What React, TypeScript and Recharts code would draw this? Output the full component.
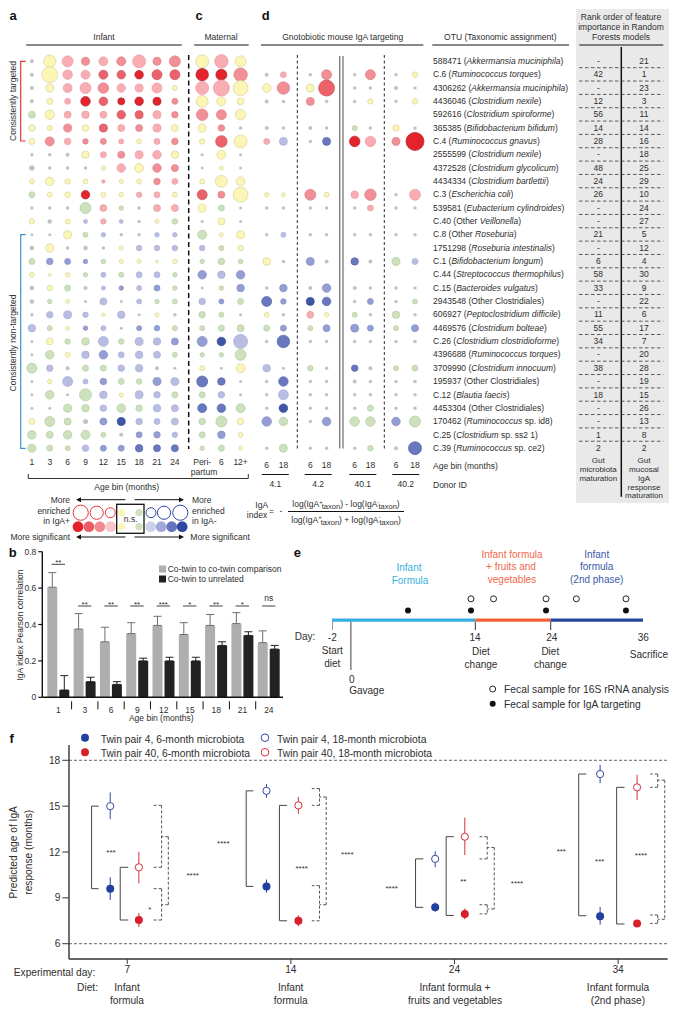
import React from 'react';
import {
    BarChart,
    Bar,
    ErrorBar,
    Scatter,
    ScatterChart,
    ReferenceLine,
    XAxis,
    YAxis,
    ZAxis,
} from 'recharts';

const FONT = '"Liberation Sans", Arial, sans-serif';
const INK = '#2e2e2e';

// ---- panels a, c, d: one row per OTU. Size = bubble abundance reading, level = IgA index class
// level: 0 absent/grey, 1 n.s. positive (yellow), -1 n.s. negative (green), 2..5 red, -2..-5 blue
const otuIds = ['588471', 'C.6', '4306262', '4436046', '592616', '365385', 'C.4', '2555599', '4372528', '4434334', 'C.3', '539581', 'C.40', 'C.8', '1751298', 'C.1', 'C.44', 'C.15', '2943548', '606927', '4469576', 'C.26', '4396688', '3709990', '195937', 'C.12', '4453304', '170462', 'C.25', 'C.39'];
const otuPrefix = ['', '', '', '', '', '', '', '', '', '', '', '', 'Other ', 'Other ', '', '', '', '', 'Other Clostridiales', '', '', '', '', '', 'Other Clostridiales', '', 'Other Clostridiales', '', '', ''];
const otuTaxon = ['Akkermansia muciniphila', 'Ruminococcus torques', 'Akkermansia muciniphila', 'Clostridium nexile', 'Clostridium spiroforme', 'Bifidobacterium bifidum', 'Ruminococcus gnavus', 'Clostridium nexile', 'Clostridium glycolicum', 'Clostridium bartlettii', 'Escherichia coli', 'Eubacterium cylindroides', 'Veillonella', 'Roseburia', 'Roseburia intestinalis', 'Bifidobacterium longum', 'Streptococcus thermophilus', 'Bacteroides vulgatus', '', 'Peptoclostridium difficile', 'Clostridium bolteae', 'Clostridium clostridioforme', 'Ruminococcus torques', 'Clostridium innocuum', '', 'Blautia faecis', '', 'Ruminococcus', 'Clostridium', 'Ruminococcus'];
const otuSuffix = ['', '', '', '', '', '', '', '', '', '', '', '', '', '', '', '', '', '', '', '', '', '', '', '', '', '', '', ' sp. id8', ' sp. ss2 1', ' sp. ce2'];
const rankMicrobiota = ['-', '42', '-', '12', '56', '14', '28', '-', '48', '24', '26', '-', '-', '21', '-', '6', '58', '33', '-', '11', '55', '34', '-', '38', '-', '18', '-', '-', '1', '2'];
const rankIgA = ['21', '1', '23', '3', '11', '14', '16', '18', '25', '29', '10', '24', '27', '5', '12', '4', '30', '9', '22', '6', '17', '7', '20', '28', '19', '15', '26', '13', '8', '2'];

const infantBins = ['1', '3', '6', '9', '12', '15', '18', '21', '24'];
const infantSize = [
    [4, 12.5, 11, 8, 9, 9, 13, 8, 11],
    [4, 16, 9.5, 9, 9, 8.5, 8.5, 10, 10],
    [4, 8, 9, 11, 10.5, 8.5, 8, 10, 5],
    [4, 6, 6, 9.5, 8.5, 7, 8.5, 8, 6],
    [7, 9.5, 7, 7.5, 7, 8.5, 8, 8, 6.5],
    [6.5, 5, 8, 6.5, 8, 7, 7, 8, 7],
    [6, 9, 6.5, 5.5, 6, 5, 5, 6, 6.5],
    [3.5, 3.5, 4, 7.5, 6, 7, 8, 8.5, 7.5],
    [5.5, 3.5, 3.5, 3.5, 4.5, 8.5, 9, 8.5, 7],
    [5, 8.5, 5.5, 5, 3.5, 4, 5, 6.5, 6],
    [6, 5, 5.5, 8.5, 5, 4.5, 5.5, 6, 5],
    [3.5, 3.5, 3.5, 11, 7, 4.5, 3.5, 7, 7],
    [5.5, 4.5, 5, 4, 5.5, 4, 3.5, 4, 5.5],
    [3, 3, 8, 5, 4.5, 3.5, 3.5, 4.5, 4.5],
    [4.5, 8.5, 3.5, 4.5, 3.5, 4, 5.5, 5.5, 5.5],
    [6, 6.5, 6, 4.5, 4.5, 4, 4, 3, 4.5],
    [5, 3, 4.5, 4.5, 5, 5, 6, 6, 4.5],
    [4.5, 5.5, 6, 4, 4, 4.5, 5, 6, 4.5],
    [4.5, 4.5, 4, 3, 7, 3, 5, 4.5, 5],
    [3.5, 6.5, 8, 5.5, 3.5, 7.5, 3, 4, 3.5],
    [7.5, 5, 4, 4.5, 5, 3, 5, 5.5, 5],
    [3, 7, 5.5, 7.5, 10, 5.5, 8, 7.5, 7],
    [3, 8.5, 5, 7.5, 8.5, 6, 7.5, 7, 5],
    [10, 6.5, 4, 6, 6, 6.5, 7.5, 4, 3],
    [3, 4.5, 10, 5, 6.5, 6, 5.5, 8, 8],
    [3, 8.5, 3, 12, 7.5, 4, 8, 6.5, 6],
    [3, 3, 8, 7.5, 6.5, 8.5, 6.5, 7.5, 7],
    [6, 10, 7, 5, 7, 8, 6.5, 6, 7],
    [8.5, 7, 8.5, 9, 5, 4, 6, 6.5, 5.5],
    [8, 6, 5, 6.5, 6, 6, 7.5, 7, 7],
];
const infantLevel = [
    [0, 1, 2, 3, 2, 3, 2, 3, 3],
    [0, 1, 2, 2, 4, 4, 5, 4, 4],
    [0, 1, 2, 2, 3, 2, 2, 2, 1],
    [0, 1, 2, 5, 4, 5, 5, 5, 3],
    [-1, 1, 2, 2, 2, 4, 4, 2, 3],
    [1, 1, 3, 1, 4, 2, 3, 2, 1],
    [1, 3, 2, 3, 3, 2, 1, 2, 3],
    [0, 0, 0, 1, 2, 3, 2, 2, 1],
    [0, 0, 0, 0, 1, 2, 1, 3, 3],
    [1, 1, 1, 1, 2, 1, 1, 3, 2],
    [-1, 1, 1, 5, 1, 1, 2, 2, 1],
    [0, 0, 0, -1, 2, -1, 0, 2, 2],
    [1, 0, 1, -2, 2, -2, 0, 1, -1],
    [0, 0, 1, -1, -2, 0, 0, -2, -2],
    [0, 1, 0, 0, 0, 1, -2, -2, -2],
    [-1, -3, -3, -3, -1, 1, 1, 1, 1],
    [1, 1, 1, -1, -2, -1, -2, -2, -1],
    [0, 1, -1, 0, -2, -3, -2, -3, -1],
    [0, -1, 1, 0, -2, 0, -2, -1, -1],
    [0, -2, -2, -2, 1, -2, 0, 1, 0],
    [-2, -1, 1, -3, -2, 0, -3, -3, -1],
    [0, 1, -1, -1, -2, -1, -2, -2, -3],
    [0, -1, 1, -2, -3, -2, -2, -2, -1],
    [-1, -2, 0, -1, -1, -2, -2, 0, 0],
    [0, 1, -2, -2, -3, -1, -1, -3, -2],
    [0, -1, 0, -1, -2, 1, -2, -2, -1],
    [0, 0, -1, -1, -2, -1, -1, -2, -2],
    [1, -1, -1, 0, -3, -5, -2, -2, -2],
    [-1, -1, -1, -1, -1, 0, -3, -3, -2],
    [-1, -1, -1, -2, -3, -3, -4, -4, -4],
];

const maternalBins = ['Peri-', '6', '12+'];
const maternalSize = [
    [13, 13.5, 11], [12.5, 11, 13.5], [13, 16, 15], [12, 9, 7], [11.5, 10, 10.5], [8, 6.5, 3.5],
    [5.5, 11.5, 13], [3, 9, 3], [3, 4, 3], [5, 12, 9], [10, 7, 15], [8, 6, 3], [3, 7, 3], [9, 4, 8], [5.5, 5, 5.5],
    [4.5, 6.5, 4.5], [8.5, 7.5, 8.5], [3, 4.5, 7.5], [6.5, 5, 6], [6.5, 5, 3], [5, 6, 7], [10, 8.5, 14],
    [4.5, 4.5, 11], [5, 3, 9], [11, 7.5, 3], [6, 6.5, 3], [9, 8.5, 9], [6.5, 11, 6.5], [6, 7.5, 5], [4.5, 6, 4],
];
const maternalLevel = [
    [1, 2, 1], [5, 5, 3], [2, 2, 1], [1, 1, 1], [3, 3, 1], [1, 3, 0],
    [1, 4, 1], [0, 1, 0], [0, 1, 0], [1, 1, 1], [4, 3, 1], [1, -1, 0], [0, 1, 0], [-1, 1, 1], [-2, -1, 1],
    [-1, -1, -1], [-3, -2, -3], [0, -1, -3], [-2, -3, -1], [-1, -1, 0], [-1, -1, -1], [-3, -5, -2],
    [-1, -1, -1], [1, 0, 1], [-4, -4, 0], [-1, -2, 0], [-4, -4, -1], [-1, -1, 1], [-1, -3, 1], [-1, -1, 1],
];

const donorIds = ['4.1', '4.2', '40.1', '40.2'];
const donorBins = ['6', '18'];
const mouseSize = [
    [0, 0, 0, 0, 0, 0, 0, 0],
    [4, 6, 3.5, 10, 3.5, 10, 3.5, 5.5],
    [8.5, 12.5, 8, 16, 3.5, 3.5, 4, 3.5],
    [4, 3.5, 8, 3.5, 3.5, 5.5, 3.5, 5.5],
    [0, 0, 0, 0, 0, 0, 0, 0],
    [4, 3.5, 4, 3.5, 5, 3.5, 6.5, 3.5],
    [6, 8, 3.5, 8, 10.5, 10.5, 8, 18],
    [0, 0, 0, 0, 0, 0, 0, 0],
    [0, 0, 0, 0, 0, 0, 0, 0],
    [0, 0, 0, 0, 0, 0, 0, 0],
    [4.5, 4, 11, 5, 7.5, 11.5, 3.5, 11],
    [3.5, 3.5, 3.5, 3.5, 3.5, 6, 3.5, 3.5],
    [0, 0, 0, 0, 0, 0, 0, 0],
    [3.5, 5, 3.5, 3.5, 3.5, 3.5, 3.5, 3.5],
    [0, 0, 0, 0, 0, 0, 0, 0],
    [8, 3.5, 8, 4, 7.5, 4, 8, 6],
    [0, 0, 0, 0, 0, 0, 0, 0],
    [3.5, 7.5, 4, 8.5, 4, 3.5, 3.5, 3.5],
    [10, 5.5, 8, 8.5, 3.5, 6, 3.5, 5],
    [5, 3.5, 7, 4.5, 5, 3.5, 7.5, 3.5],
    [6, 6, 5, 7, 8, 6, 5, 7],
    [3.5, 12.5, 3.5, 3.5, 3.5, 3.5, 3.5, 3.5],
    [0, 0, 0, 0, 0, 0, 0, 0],
    [7.5, 3, 5.5, 3.5, 6.5, 4, 5, 6],
    [3.5, 9.5, 3.5, 3.5, 4, 3.5, 3.5, 3.5],
    [3.5, 10, 3.5, 3.5, 3.5, 3.5, 3.5, 3.5],
    [3.5, 8.5, 3.5, 3.5, 3.5, 6, 3.5, 3.5],
    [9.5, 8.5, 3.5, 8.5, 9.5, 9.5, 8.5, 11],
    [0, 0, 0, 0, 0, 0, 0, 0],
    [3.5, 8, 3.5, 3.5, 3.5, 5.5, 4, 13],
];
const mouseLevel = [
    [0, 0, 0, 0, 0, 0, 0, 0],
    [0, 2, 0, 3, 0, 3, 0, 1],
    [1, 3, 1, 4, 0, 0, 0, 0],
    [0, 0, 3, 0, 0, 1, 0, 1],
    [0, 0, 0, 0, 0, 0, 0, 0],
    [0, 0, 0, 0, -1, 0, 1, 0],
    [2, -2, 0, -4, 5, 2, 3, 5],
    [0, 0, 0, 0, 0, 0, 0, 0],
    [0, 0, 0, 0, 0, 0, 0, 0],
    [0, 0, 0, 0, 0, 0, 0, 0],
    [1, 1, 3, 1, 2, 3, 0, 2],
    [0, 0, 0, 0, 0, 2, 0, 0],
    [0, 0, 0, 0, 0, 0, 0, 0],
    [0, -2, 0, 0, 0, 0, 0, 0],
    [0, 0, 0, 0, 0, 0, 0, 0],
    [1, 0, -3, 0, -4, 0, -1, -2],
    [0, 0, 0, 0, 0, 0, 0, 0],
    [0, -3, 0, -3, 0, 0, 0, 0],
    [-4, -3, -5, -4, 0, -3, 0, -1],
    [1, 0, 2, 1, -1, 0, -1, 0],
    [-1, -3, -1, -3, -3, -3, -1, -3],
    [0, -4, 0, 0, 0, 0, 0, 0],
    [0, 0, 0, 0, 0, 0, 0, 0],
    [-2, 0, -1, 0, -4, 0, -1, -1],
    [0, -4, 0, 0, 0, 0, 0, 0],
    [0, -2, 0, 0, 0, 0, 0, 0],
    [0, -5, 0, 0, 0, -1, 0, 0],
    [-3, -1, 0, -3, -1, -1, -3, -1],
    [0, 0, 0, 0, 0, 0, 0, 0],
    [0, -1, 0, 0, 0, -1, 0, -4],
];

// ---- panel b
const ageBins = ['1', '3', '6', '9', '12', '15', '18', '21', '24'];
const coTwin = [0.605, 0.375, 0.305, 0.35, 0.395, 0.345, 0.395, 0.405, 0.3];
const coTwinErr = [0.08, 0.085, 0.08, 0.06, 0.05, 0.065, 0.06, 0.06, 0.065];
const unrelated = [0.04, 0.086, 0.071, 0.2, 0.2, 0.2, 0.285, 0.34, 0.265];
const unrelatedErr = [0.079, 0.024, 0.015, 0.015, 0.02, 0.02, 0.02, 0.02, 0.02];
const significance = ['**', '**', '**', '**', '***', '*', '**', '*', 'ns'];

// ---- panel e (positions along the drawn timeline, which is not to scale)
const dayLabels = ['-2', '14', '24', '36'];
const dietStops = [-2, 15.48, 24.67, 36];
const dietColors = ['#35aee2', '#f4603a', '#23479c'];
const rrnaSamples = [14.95, 17.7, 24.1, 27.8, 33.85];
const igaSamples = [7.27, 14.95, 24.1, 33.85];

// ---- panel f: [slot, mean, low, high]; day groups sit at 0, 100, 200, 300 on the x axis
const dayGroups = ['7', '14', '24', '34'];
const pair4Month6 = [[-10.4, 9.6, 8.87, 10.35], [85.1, 9.75, 9.35, 10.2], [188.2, 8.38, 8.1, 8.7], [289, 7.8, 7.25, 8.4]];
const pair4Month18 = [[-10.4, 15, 14.15, 15.9], [85.1, 16, 15.55, 16.45], [188.2, 11.55, 11, 12.05], [289, 17.1, 16.5, 17.7]];
const pair40Month6 = [[7.1, 7.55, 7.1, 8], [104.6, 7.5, 7.15, 7.85], [206.3, 7.95, 7.6, 8.3], [311.6, 7.33, 7.1, 7.55]];
const pair40Month18 = [[7.1, 11, 9.95, 12.02], [104.6, 15.05, 14.5, 15.6], [206.3, 13, 11.8, 14.25], [311.6, 16.23, 15.4, 17.05]];
// [spine x, tip x, upper y, lower y]
const solidBrackets = [
    [-21.8, -17.5, 15, 9.6], [-4.3, 0.6, 11, 7.55],
    [72.7, 77.1, 16, 9.75], [93, 97.6, 15.05, 7.5],
    [176.2, 180.9, 11.55, 8.38], [194.9, 199.6, 13, 7.85],
    [275.9, 280.6, 17.1, 7.83], [299.1, 303.9, 16.23, 7.29],
];
const dashedBrackets = [
    [21, 15.9, 15.05, 11], [21, 15.9, 9.6, 7.55], [25.1, 21, 13, 8.55],
    [117.5, 112.8, 16.15, 15.05], [117.5, 112.8, 9.8, 7.5], [121.6, 117.5, 15.6, 8.55],
    [220, 215.3, 13, 11.55], [220, 215.3, 8.55, 7.95], [224.3, 220, 12.3, 8.27],
    [324.2, 319.6, 17.1, 16.23], [324.2, 319.6, 7.88, 7.33], [328.5, 324.2, 16.7, 7.6],
];

const REDS = ['#f7adb1', '#f28f96', '#ec626b', '#e5232d'];
const REDS_STROKE = ['#eb9ea3', '#d9828a', '#c7545f', '#a8252f'];
const BLUES = ['#b8bee1', '#949ed2', '#6877be', '#3f55a7'];
const BLUES_STROKE = ['#a9afd7', '#848ec6', '#5868ad', '#324791'];

const bubbleFill = (level: number) => {
    if (level === 0) return '#c2c2c6';
    if (level === 1) return '#fbf5b6';
    if (level === -1) return '#cde2bc';
    return level > 0 ? REDS[level - 2] : BLUES[-level - 2];
};
const bubbleStroke = (level: number) => {
    if (level === 0) return 'none';
    if (level === 1) return '#d9d4a2';
    if (level === -1) return '#b3cca3';
    return level > 0 ? REDS_STROKE[level - 2] : BLUES_STROKE[-level - 2];
};

const Bubble = (props: any) => {
    const { cx, cy, size, payload } = props;
    if (!payload || !payload.abundance) return null;
    return (
        <circle
            cx={cx}
            cy={cy}
            r={Math.sqrt(size / Math.PI)}
            fill={bubbleFill(payload.level)}
            stroke={bubbleStroke(payload.level)}
            strokeWidth={0.7}
        />
    );
};

const ROW_TOP = 61;
const ROW_STEP = 13.34;
const rowY = (i: number) => ROW_TOP + ROW_STEP * i;

interface BubblePanelProps {
    sizes: number[][];
    levels: number[][];
    bins: string[];
    firstX: number;
    step: number;
    tickGap: number;
    columns?: number[];
}

const BubblePanel: React.FC<BubblePanelProps> = ({ sizes, levels, bins, firstX, step, tickGap, columns }) => {
    const offset = columns ? columns[0] : 0;
    const picks = bins.map((_, i) => i + offset);
    const points = sizes.flatMap((row, r) =>
        picks.map((c, i) => ({ col: i + 1, row: r, abundance: row[c] * row[c], level: levels[r][c] })),
    );
    const plotHeight = ROW_STEP * 30.6;
    const axisHeight = 20;
    return (
        <div style={{ position: 'absolute', left: firstX - step, top: ROW_TOP - ROW_STEP, width: step * (bins.length + 1) }}>
            <ScatterChart
                width={step * (bins.length + 1)}
                height={plotHeight + axisHeight}
                margin={{ top: 0, right: 0, bottom: 0, left: 0 }}
            >
                <XAxis
                    type="number"
                    dataKey="col"
                    domain={[0, bins.length + 1]}
                    ticks={bins.map((_, i) => i + 1)}
                    tickFormatter={(v: number) => bins[v - 1]}
                    interval={0}
                    axisLine={false}
                    tickLine={false}
                    tickSize={0}
                    tickMargin={tickGap}
                    height={axisHeight}
                    tick={{ fontSize: 8.5, fill: INK, fontFamily: FONT }}
                />
                <YAxis type="number" dataKey="row" domain={[-1, 29.6]} reversed hide />
                <ZAxis type="number" dataKey="abundance" domain={[0, 324]} range={[0, 254.5]} />
                <Scatter data={points} shape={Bubble} isAnimationActive={false} />
            </ScatterChart>
        </div>
    );
};

// ---- panel b chart
const BandTick = (props: any) => {
    const { x, y, payload } = props;
    const isLast = payload.index === ageBins.length - 1;
    return (
        <g>
            <text x={x} y={y + 8} textAnchor="middle" fontSize={8.5} fill={INK} fontFamily={FONT}>
                {payload.value}
            </text>
            {!isLast && <line x1={x + 13.15} x2={x + 13.15} y1={y - 4} y2={y + 4} stroke="#111" strokeWidth={1} />}
        </g>
    );
};

const CorrelationChart = () => {
    const rows = ageBins.map((bin, i) => ({
        bin,
        coTwin: coTwin[i],
        coTwinErr: [0, coTwinErr[i]],
        unrelated: unrelated[i],
        unrelatedErr: [0, unrelatedErr[i]],
    }));
    return (
        <div style={{ position: 'absolute', left: 0, top: 545 }}>
            <BarChart
                width={283}
                height={182.3}
                data={rows}
                barSize={10}
                barGap={2}
                margin={{ top: 6.7, right: 0, bottom: 0, left: 0 }}
            >
                <XAxis
                    dataKey="bin"
                    interval={0}
                    padding={{ left: 3, right: 1 }}
                    height={30}
                    tickLine={false}
                    tick={BandTick}
                    axisLine={{ stroke: '#111', strokeWidth: 1.4 }}
                />
                <YAxis
                    type="number"
                    domain={[0, 0.8]}
                    ticks={[0, 0.2, 0.4, 0.6, 0.8]}
                    tickFormatter={(v: number) => (v === 0 ? '0' : v.toFixed(1))}
                    width={42.3}
                    tickSize={4}
                    tickMargin={2}
                    axisLine={{ stroke: '#111', strokeWidth: 1.4 }}
                    tickLine={{ stroke: '#111', strokeWidth: 1.2 }}
                    tick={{ fontSize: 8.5, fill: INK, fontFamily: FONT }}
                />
                <Bar dataKey="coTwin" fill="#aeaeb0" isAnimationActive={false}>
                    <ErrorBar dataKey="coTwinErr" direction="y" width={4} stroke="#6e6e70" strokeWidth={1} />
                </Bar>
                <Bar dataKey="unrelated" fill="#222222" isAnimationActive={false}>
                    <ErrorBar dataKey="unrelatedErr" direction="y" width={4} stroke="#222" strokeWidth={1} />
                </Bar>
            </BarChart>
        </div>
    );
};

// ---- panel e chart
const TimelineChart = () => {
    const open = rrnaSamples.map((day) => ({ day, lane: 2 }));
    const filled = igaSamples.map((day) => ({ day, lane: 1 }));
    return (
        <div style={{ position: 'absolute', left: 331.7, top: 590 }}>
            <ScatterChart width={311.6} height={90} margin={{ top: 0, right: 0, bottom: 0, left: 0 }}>
                <XAxis type="number" dataKey="day" domain={[-2, 36]} hide />
                <YAxis type="number" dataKey="lane" domain={[-5, 2.76]} hide />
                <ReferenceLine segment={[{ x: -2, y: 0.05 }, { x: -2, y: -0.69 }]} stroke="#333" strokeWidth={1} ifOverflow="visible" />
                <ReferenceLine segment={[{ x: 0.3, y: 0.05 }, { x: 0.3, y: -4.14 }]} stroke="#777" strokeWidth={1.4} ifOverflow="visible" />
                {dietStops.slice(1).map((day) => (
                    <ReferenceLine key={day} segment={[{ x: day, y: 0.05 }, { x: day, y: -0.69 }]} stroke="#333" strokeWidth={1} ifOverflow="visible" />
                ))}
                {dietColors.map((color, i) => (
                    <ReferenceLine
                        key={color}
                        segment={[{ x: dietStops[i], y: 0.17 }, { x: dietStops[i + 1], y: 0.17 }]}
                        stroke={color}
                        strokeWidth={3.2}
                        ifOverflow="visible"
                    />
                ))}
                <Scatter
                    data={open}
                    isAnimationActive={false}
                    shape={(p: any) => <circle cx={p.cx} cy={p.cy} r={3} fill="#fff" stroke="#222" strokeWidth={1} />}
                />
                <Scatter
                    data={filled}
                    isAnimationActive={false}
                    shape={(p: any) => <circle cx={p.cx} cy={p.cy} r={3} fill="#111" />}
                />
            </ScatterChart>
        </div>
    );
};

// ---- panel f chart
const toPoints = (rows: number[][]) =>
    rows.map(([slot, mean, low, high]) => ({ slot, mean, spread: [mean - low, high - mean] }));

const TWIN_SERIES = [
    { rows: pair4Month18, color: '#33479f', hollow: true },
    { rows: pair40Month18, color: '#d8303c', hollow: true },
    { rows: pair4Month6, color: '#22419e', hollow: false },
    { rows: pair40Month6, color: '#d8202c', hollow: false },
];

const bracketLines = (b: number[], key: string, stroke: string, dash?: string) =>
    [
        [b[0], b[2], b[0], b[3]],
        [b[0], b[2], b[1], b[2]],
        [b[0], b[3], b[1], b[3]],
    ].map((s, i) => (
        <ReferenceLine
            key={key + i}
            segment={[{ x: s[0], y: s[1] }, { x: s[2], y: s[3] }]}
            stroke={stroke}
            strokeWidth={1}
            strokeDasharray={dash}
            ifOverflow="visible"
        />
    ));

const ResponseChart = () => (
    <div style={{ position: 'absolute', left: 40, top: 745 }}>
        <ScatterChart width={627.7} height={234} margin={{ top: 0, right: 0, bottom: 0, left: 0 }}>
            <XAxis
                type="number"
                dataKey="slot"
                domain={[-35.6, 330.3]}
                ticks={[0, 100, 200, 300]}
                tickFormatter={(v: number) => dayGroups[v / 100]}
                interval={0}
                height={20}
                tickSize={5}
                tickMargin={2}
                axisLine={{ stroke: '#333', strokeWidth: 1.4 }}
                tickLine={{ stroke: '#333' }}
                tick={{ fontSize: 10.2, fill: INK, fontFamily: FONT }}
            />
            <YAxis
                type="number"
                dataKey="mean"
                domain={[5, 19]}
                ticks={[6, 9, 12, 15, 18]}
                interval={0}
                width={29}
                tickSize={6.7}
                tickMargin={2}
                axisLine={{ stroke: '#333', strokeWidth: 1.4 }}
                tickLine={{ stroke: '#333' }}
                tick={{ fontSize: 10.2, fill: INK, fontFamily: FONT }}
            />
            <ReferenceLine y={18} stroke="#666" strokeDasharray="3 2" strokeWidth={1} />
            <ReferenceLine y={6} stroke="#666" strokeDasharray="3 2" strokeWidth={1} />
            {solidBrackets.flatMap((b, i) => bracketLines(b, 's' + i, '#444'))}
            {dashedBrackets.flatMap((b, i) => bracketLines(b, 'd' + i, '#555', '3 2'))}
            {TWIN_SERIES.map((series, i) => (
                <Scatter
                    key={i}
                    data={toPoints(series.rows)}
                    isAnimationActive={false}
                    shape={(p: any) => (
                        <circle
                            cx={p.cx}
                            cy={p.cy}
                            r={series.hollow ? 3.6 : 4}
                            fill={series.hollow ? '#fff' : series.color}
                            stroke={series.hollow ? series.color : 'none'}
                            strokeWidth={1}
                        />
                    )}
                >
                    <ErrorBar dataKey="spread" direction="y" width={0} stroke={series.color} strokeWidth={1} />
                </Scatter>
            ))}
        </ScatterChart>
    </div>
);

// ---- plain annotation layer
const T: React.FC<{
    x: number;
    y: number;
    size?: number;
    anchor?: 'start' | 'middle' | 'end';
    color?: string;
    weight?: string;
    rotate?: boolean;
    children: React.ReactNode;
}> = ({ x, y, size = 8.5, anchor = 'middle', color = INK, weight, rotate, children }) => (
    <text
        x={x}
        y={y}
        fontSize={size}
        textAnchor={anchor}
        fill={color}
        fontWeight={weight}
        dominantBaseline="central"
        transform={rotate ? `rotate(-90 ${x} ${y})` : undefined}
    >
        {children}
    </text>
);

const Rule: React.FC<{ x1: number; y1: number; x2: number; y2: number; color?: string; w?: number; dash?: string }> = ({
    x1, y1, x2, y2, color = '#111', w = 1, dash,
}) => <line x1={x1} y1={y1} x2={x2} y2={y2} stroke={color} strokeWidth={w} strokeDasharray={dash} />;

const ArrowHead: React.FC<{ x: number; y: number; dir: number }> = ({ x, y, dir }) => (
    <polygon points={`${x},${y} ${x - dir * 5},${y - 2.5} ${x - dir * 5},${y + 2.5}`} fill="#111" />
);

const Stars: React.FC<{ x: number; y: number; s: string; size?: number }> = ({ x, y, s, size = 9 }) => (
    <T x={x} y={y + 2} size={size}>{s}</T>
);

const significanceX = [58.3, 84.7, 111, 137, 163.3, 189.7, 216, 242.3, 268.7];
const starSpots: [number, number, string][] = [
    [111, 850.3, '***'], [149.7, 907, '*'], [192.7, 873.7, '****'], [223.3, 841.7, '****'], [301.7, 866.7, '****'],
    [347.3, 852.7, '****'], [391.7, 886, '****'], [463.3, 879.3, '**'], [517, 881, '****'], [561.3, 849.7, '***'],
    [599.7, 859.3, '***'], [641, 853.3, '****'],
];

const IgaTerm: React.FC<{ sign: string }> = ({ sign }) => (
    <>
        log(IgA
        <tspan dy={-2.5} fontSize={6}>{sign}</tspan>
        <tspan dy={4.5} dx={-1} fontSize={7.5}>taxon</tspan>
        <tspan dy={-2}>)</tspan>
    </>
);

const Annotations = () => (
    <svg width={679} height={1015} style={{ position: 'absolute', left: 0, top: 0, fontFamily: FONT }}>
        {/* panel letters */}
        <T x={13} y={15.5} size={13} weight="bold" color="#111">a</T>
        <T x={199} y={15.5} size={13} weight="bold" color="#111">c</T>
        <T x={265.7} y={15} size={13} weight="bold" color="#111">d</T>
        <T x={12.7} y={552.7} size={13} weight="bold" color="#111">b</T>
        <T x={297.3} y={552.7} size={13} weight="bold" color="#111">e</T>
        <T x={11.7} y={738.3} size={13} weight="bold" color="#111">f</T>

        {/* headers */}
        <T x={104} y={36.7}>Infant</T>
        <Rule x1={26.3} y1={45} x2={181.7} y2={45} />
        <T x={221} y={36.7}>Maternal</T>
        <Rule x1={194.3} y1={45} x2={248.7} y2={45} />
        <T x={342.7} y={36.7}>Gnotobiotic mouse IgA targeting</T>
        <Rule x1={261} y1={45} x2={423.3} y2={45} />
        <T x={500.3} y={36.7}>OTU (Taxonomic assignment)</T>
        <Rule x1={432.3} y1={45} x2={569} y2={45} />

        {/* side brackets */}
        <polyline points="25.7,61.3 20.7,61.3 20.7,141 25.7,141" fill="none" stroke="#e2353f" strokeWidth={1.2} />
        <polyline points="25.7,234.7 20.7,234.7 20.7,448.3 25.7,448.3" fill="none" stroke="#3c92cf" strokeWidth={1.2} />
        <T x={13.3} y={101} rotate>Consistently targeted</T>
        <T x={13.3} y={343} rotate>Consistently non-targeted</T>

        {/* separators */}
        <Rule x1={188.7} y1={55} x2={188.7} y2={449} w={1.5} dash="5 3.5" />
        <Rule x1={297.3} y1={55} x2={297.3} y2={449} w={0.9} dash="3 2.5" />
        <Rule x1={384.3} y1={55} x2={384.3} y2={449} w={0.9} dash="3 2.5" />
        <Rule x1={339.7} y1={56} x2={339.7} y2={448.5} color="#777" w={1.3} />
        <Rule x1={343} y1={56} x2={343} y2={448.5} color="#777" w={1.3} />

        {/* OTU names */}
        {otuIds.map((id, i) => (
            <T key={id} x={433} y={rowY(i)} anchor="start">
                {id} ({otuPrefix[i]}
                <tspan fontStyle="italic">{otuTaxon[i]}</tspan>
                {otuSuffix[i]})
            </T>
        ))}
        <T x={433} y={466} anchor="start">Age bin (months)</T>
        <T x={433} y={485} anchor="start">Donor ID</T>

        {/* rank table, sits behind its text */}
        <T x={621} y={16.7}>Rank order of feature</T>
        <T x={621} y={27}>importance in Random</T>
        <T x={621} y={37}>Forests models</T>
        <Rule x1={579.3} y1={45} x2={663.3} y2={45} />
        <Rule x1={621.3} y1={47} x2={621.3} y2={496.7} w={1.5} />
        {rankMicrobiota.map((rank, i) => (
            <g key={i}>
                <T x={598.3} y={rowY(i)}>{rank}</T>
                <T x={644} y={rowY(i)}>{rankIgA[i]}</T>
                {i < rankMicrobiota.length - 1 && (
                    <Rule x1={579} y1={rowY(i) + 6.7} x2={663.5} y2={rowY(i) + 6.7} color="#333" w={0.8} dash="3.5 2.5" />
                )}
            </g>
        ))}
        <T x={598.3} y={460.7} size={8}>Gut</T>
        <T x={598.3} y={469.5} size={8}>microbiota</T>
        <T x={598.3} y={478} size={8}>maturation</T>
        <T x={644} y={460.7} size={8}>Gut</T>
        <T x={644} y={469.5} size={8}>mucosal</T>
        <T x={644} y={478} size={8}>IgA</T>
        <T x={644} y={487} size={8}>response</T>
        <T x={644} y={495.5} size={8}>maturation</T>

        {/* age bin bracket and donor rules */}
        <T x={204} y={471.5}>partum</T>
        <polyline points="28.3,474 28.3,478.5 248.3,478.5 248.3,474" fill="none" stroke="#333" strokeWidth={1} />
        <T x={126.7} y={486.7}>Age bin (months)</T>
        {donorIds.map((id, i) => {
            const c = [275.3, 318.2, 362.8, 405.8][i];
            return (
                <g key={id}>
                    <Rule x1={c - 13.5} y1={474.5} x2={c + 13.5} y2={474.5} />
                    <T x={c} y={484.3}>{id}</T>
                </g>
            );
        })}

        {/* bubble key */}
        <Rule x1={78} y1={499.7} x2={125.5} y2={499.7} />
        <ArrowHead x={76} y={499.7} dir={-1} />
        <Rule x1={134.5} y1={499.7} x2={182} y2={499.7} />
        <ArrowHead x={184} y={499.7} dir={1} />
        <Rule x1={78} y1={537} x2={125.5} y2={537} />
        <ArrowHead x={76} y={537} dir={-1} />
        <Rule x1={134.5} y1={537} x2={182} y2={537} />
        <ArrowHead x={184} y={537} dir={1} />
        <T x={70} y={500} anchor="end">More</T>
        <T x={70} y={510.7} anchor="end">enriched</T>
        <T x={70} y={521} anchor="end">in IgA+</T>
        <T x={70} y={536.5} anchor="end">More significant</T>
        <T x={192} y={500} anchor="start">More</T>
        <T x={192} y={510.7} anchor="start">enriched</T>
        <T x={192} y={521} anchor="start">in IgA-</T>
        <T x={190.3} y={536.5} anchor="start">More significant</T>
        <circle cx={80.7} cy={512.7} r={7.6} fill="none" stroke="#e2353f" strokeWidth={1} />
        <circle cx={96.7} cy={512.7} r={6.6} fill="none" stroke="#e2353f" strokeWidth={1} />
        <circle cx={110.3} cy={512.7} r={5} fill="none" stroke="#e2353f" strokeWidth={1} />
        <circle cx={151} cy={512.7} r={5} fill="none" stroke="#2d479f" strokeWidth={1} />
        <circle cx={164} cy={512.7} r={6.6} fill="none" stroke="#2d479f" strokeWidth={1} />
        <circle cx={180.3} cy={512.7} r={7.6} fill="none" stroke="#2d479f" strokeWidth={1} />
        {['#e6202b', '#ec5c66', '#f28a92', '#f8c6c9'].map((c, i) => (
            <circle key={c} cx={78 + i * 10.9} cy={526.7} r={5.4} fill={c} />
        ))}
        {['#cdd2ea', '#a0a8d8', '#6575bd', '#2d479f'].map((c, i) => (
            <circle key={c} cx={150.7 + i * 10.5} cy={526.7} r={5.4} fill={c} />
        ))}
        <circle cx={121.7} cy={512.7} r={3.6} fill="#fbf5b6" />
        <circle cx={121.7} cy={526.7} r={3.6} fill="#fbf5b6" />
        <circle cx={139} cy={512.7} r={3.6} fill="#cde2bc" />
        <circle cx={139} cy={526.7} r={3.6} fill="#cde2bc" />
        <rect x={116.7} y={504.3} width={27.3} height={29} fill="none" stroke="#111" strokeWidth={1.3} />
        <T x={130.7} y={518.7}>n.s.</T>

        {/* formula */}
        <T x={261.7} y={505}>IgA</T>
        <T x={257} y={515}>index</T>
        <T x={271.5} y={510.7}>=</T>
        <T x={281} y={510.7}>-</T>
        <Rule x1={288} y1={511.5} x2={404} y2={511.5} />
        <T x={346} y={504} size={8.5}><IgaTerm sign="+" /> - <IgaTerm sign="-" /></T>
        <T x={346} y={519.5} size={8.5}><IgaTerm sign="+" /> + <IgaTerm sign="-" /></T>

        {/* panel b notes */}
        <T x={19.5} y={625} rotate>IgA index Pearson correlation</T>
        <T x={161.3} y={718.3} size={8.5}>Age bin (months)</T>
        <rect x={159} y={565.5} width={7} height={7} fill="#aeaeb0" />
        <rect x={159} y={575.5} width={7} height={7} fill="#222" />
        <T x={167.7} y={569} anchor="start">Co-twin to co-twin comparison</T>
        <T x={167.7} y={579} anchor="start">Co-twin to unrelated</T>
        {significance.map((s, i) => {
            const first = i === 0;
            const ruleY = first ? 564.3 : 606;
            return (
                <g key={i}>
                    <Rule x1={significanceX[i] - 6.7} y1={ruleY} x2={significanceX[i] + 6.7} y2={ruleY} w={0.8} />
                    {s === 'ns'
                        ? <T x={significanceX[i]} y={598}>ns</T>
                        : <Stars x={significanceX[i]} y={ruleY - 3.5} s={s} size={8} />}
                </g>
            );
        })}

        {/* panel e notes */}
        <T x={409} y={567.7} size={10} color="#3ab0e0">Infant</T>
        <T x={410} y={580} size={10} color="#3ab0e0">Formula</T>
        <T x={512} y={554.3} size={10} color="#f0684a">Infant formula</T>
        <T x={511} y={566.7} size={10} color="#f0684a">+ fruits and</T>
        <T x={512} y={579.3} size={10} color="#f0684a">vegetables</T>
        <T x={596.7} y={554.3} size={10} color="#3a5aa8">Infant</T>
        <T x={596.7} y={566.7} size={10} color="#3a5aa8">formula</T>
        <T x={596.7} y={579.3} size={10} color="#3a5aa8">(2nd phase)</T>
        <T x={305} y={636.7} size={10}>Day:</T>
        {dayLabels.map((d, i) => (
            <T key={d} x={[332.3, 475, 551.7, 643.3][i]} y={637} size={10}>{d}</T>
        ))}
        <T x={332.3} y={650.3} size={10}>Start</T>
        <T x={332.3} y={663} size={10}>diet</T>
        <T x={481} y={651.7} size={10}>Diet</T>
        <T x={481} y={664} size={10}>change</T>
        <T x={550.3} y={651.7} size={10}>Diet</T>
        <T x={550.3} y={664} size={10}>change</T>
        <T x={649} y={654} size={10}>Sacrifice</T>
        <T x={351.7} y={679} size={10}>0</T>
        <T x={366.7} y={690.7} size={10}>Gavage</T>
        <circle cx={492.7} cy={689} r={3} fill="#fff" stroke="#222" />
        <circle cx={492.7} cy={703.7} r={3} fill="#111" />
        <T x={504} y={689} size={10.3} anchor="start">Fecal sample for 16S rRNA analysis</T>
        <T x={504} y={704.5} size={10.3} anchor="start">Fecal sample for IgA targeting</T>

        {/* panel f notes */}
        <circle cx={85} cy={737.7} r={4} fill="#22419e" />
        <circle cx={85} cy={752.3} r={4} fill="#d8202c" />
        <circle cx={265} cy={737.7} r={3.8} fill="#fff" stroke="#33479f" />
        <circle cx={265} cy={752.3} r={3.8} fill="#fff" stroke="#d8303c" />
        <T x={100.7} y={739} size={10.3} anchor="start">Twin pair 4, 6-month microbiota</T>
        <T x={100.7} y={753.3} size={10.3} anchor="start">Twin pair 40, 6-month microbiota</T>
        <T x={277} y={739} size={10.3} anchor="start">Twin pair 4, 18-month microbiota</T>
        <T x={277} y={753.3} size={10.3} anchor="start">Twin pair 40, 18-month microbiota</T>
        <T x={14} y={852.3} size={10.2} rotate>Predicted age of IgA</T>
        <T x={28.3} y={852.3} size={10.2} rotate>response (months)</T>
        {starSpots.map(([x, y, s]) => <Stars key={`${x}${y}`} x={x} y={y} s={s} size={8} />)}
        <T x={95.3} y={972.7} size={10.2} anchor="end">Experimental day:</T>
        <T x={98} y={987.3} size={10.2} anchor="end">Diet:</T>
        <T x={127} y={987.3} size={10.2}>Infant</T>
        <T x={127} y={1000.3} size={10.2}>formula</T>
        <T x={290.7} y={987.3} size={10.2}>Infant</T>
        <T x={290.7} y={1000.3} size={10.2}>formula</T>
        <T x={455} y={987.3} size={10.2}>Infant formula +</T>
        <T x={455} y={1000.3} size={10.2}>fruits and vegetables</T>
        <T x={618} y={987.3} size={10.2}>Infant formula</T>
        <T x={618} y={1000.3} size={10.2}>(2nd phase)</T>
    </svg>
);

const App = () => (
    <div style={{ position: 'absolute', left: 0, top: 0, width: 679, height: 1015, background: '#fff', fontFamily: FONT, overflow: 'hidden' }}>
        <div style={{ position: 'absolute', left: 575.7, top: 9, width: 93.3, height: 494, background: '#e9e9ea' }} />
        <BubblePanel sizes={infantSize} levels={infantLevel} bins={infantBins} firstX={32} step={17.875} tickGap={2.5} />
        <BubblePanel sizes={maternalSize} levels={maternalLevel} bins={maternalBins} firstX={202.3} step={19.2} tickGap={2.5} />
        <BubblePanel sizes={mouseSize} levels={mouseLevel} bins={donorBins} firstX={267} step={16.7} tickGap={6} columns={[0]} />
        <BubblePanel sizes={mouseSize} levels={mouseLevel} bins={donorBins} firstX={310} step={16.3} tickGap={6} columns={[2]} />
        <BubblePanel sizes={mouseSize} levels={mouseLevel} bins={donorBins} firstX={355} step={15.7} tickGap={6} columns={[4]} />
        <BubblePanel sizes={mouseSize} levels={mouseLevel} bins={donorBins} firstX={396.3} step={19} tickGap={6} columns={[6]} />
        <CorrelationChart />
        <TimelineChart />
        <ResponseChart />
        <Annotations />
    </div>
);

export default App;
